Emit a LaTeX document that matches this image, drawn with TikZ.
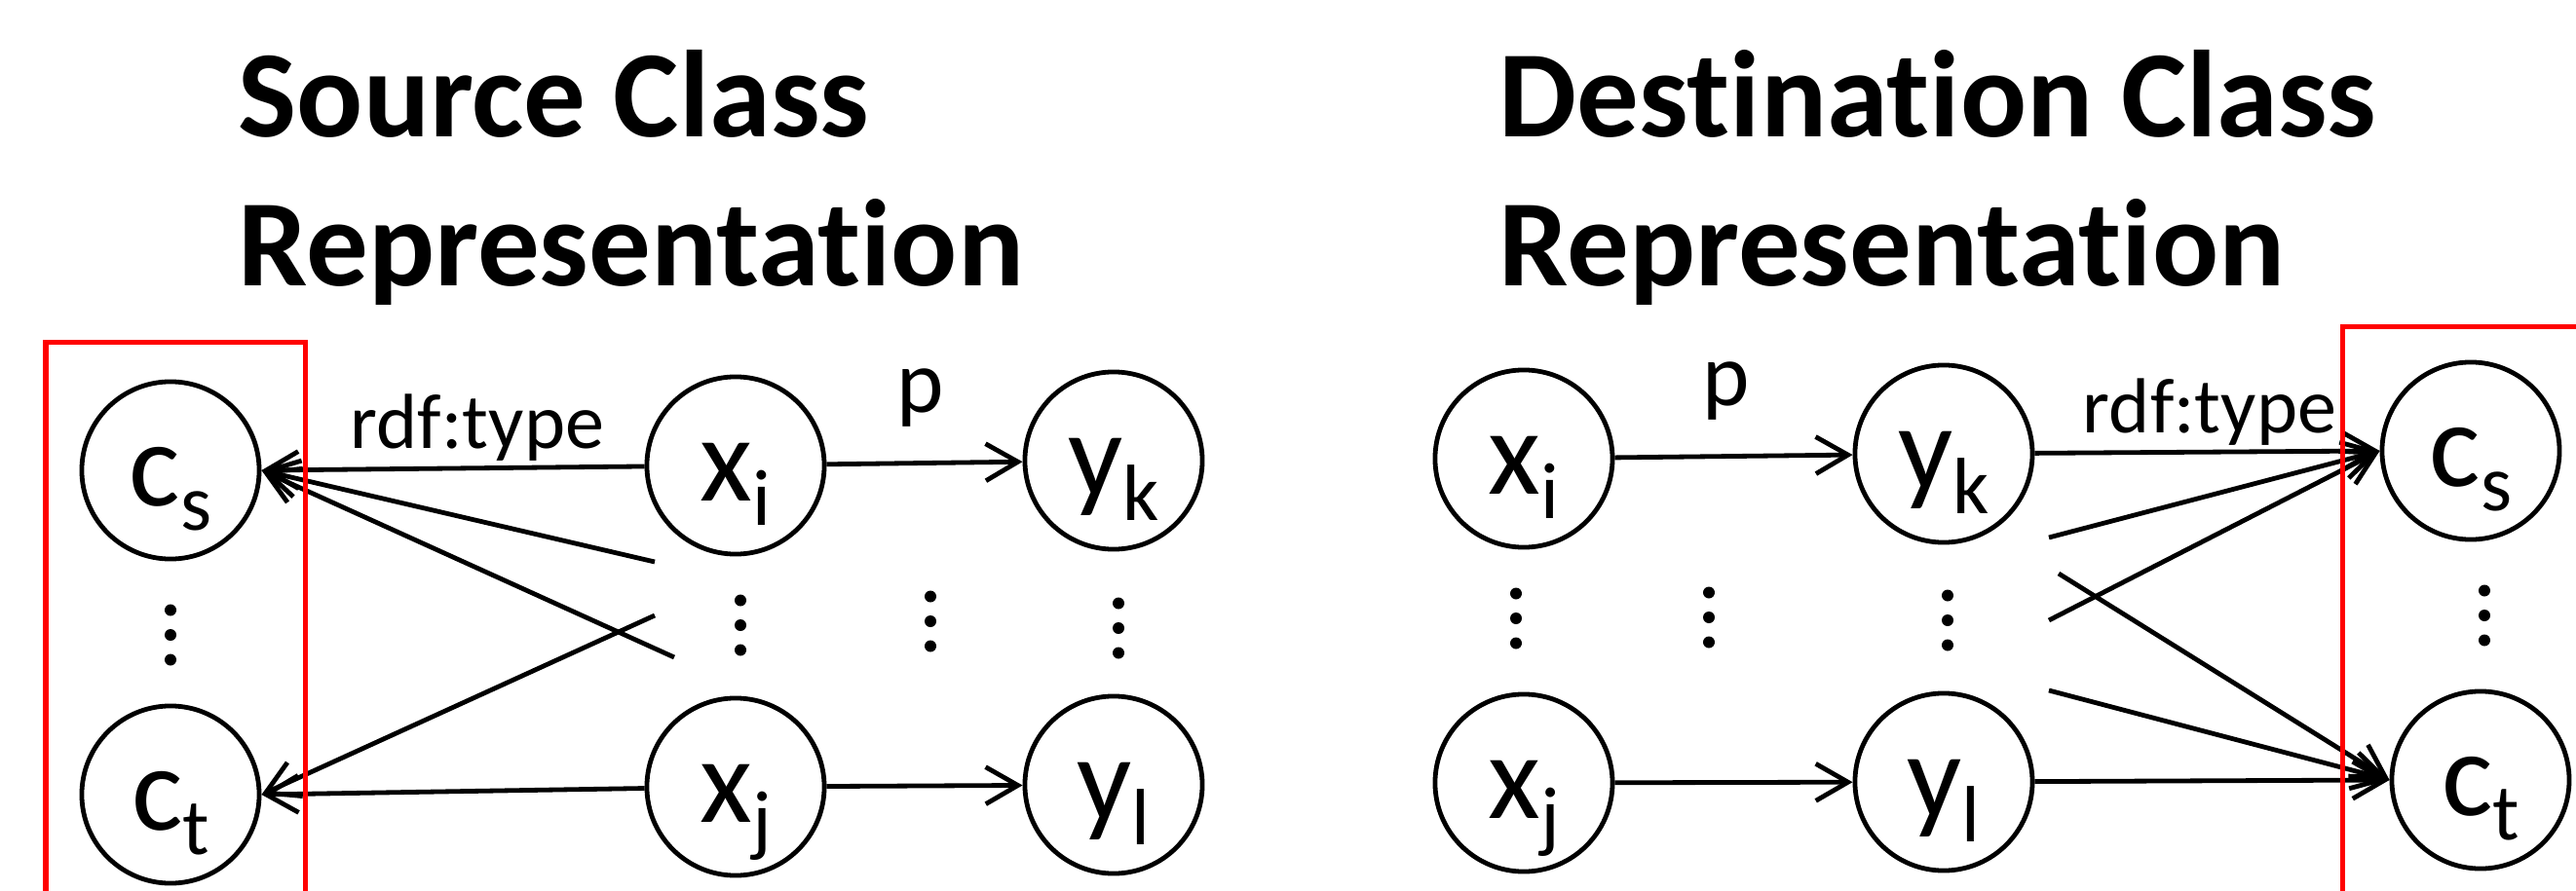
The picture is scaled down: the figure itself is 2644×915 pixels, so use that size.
\documentclass[tikz,border=0pt]{standalone}
\usepackage{fontspec}
\setmainfont{Carlito}[RawFeature={-liga;-clig;-calt;-dlig}]
\usetikzlibrary{arrows.meta}
\newcommand{\nd}[2]{{\fontsize{35.3pt}{36pt}\selectfont #1\raisebox{-0.25cm}{\fontsize{23.3pt}{24pt}\selectfont #2}}}
\newcommand{\vdotsat}[2]{\foreach \dd in {-25.5,0,25.5} {\fill (#1,#2+\dd) circle (0.06cm);}}
\tikzset{
  vnode/.style={circle, draw, line width=0.048cm, minimum size=1.82cm, inner sep=0pt, text height=0.72cm, text depth=0pt},
  arr/.style={line width=0.048cm, -{Straight Barb[length=0.33cm,width=0.38cm]}},
  edgelbl/.style={anchor=base, inner sep=0pt, font=\fontsize{22.8pt}{24pt}\selectfont},
  plbl/.style={anchor=base, inner sep=0pt, font=\fontsize{26.2pt}{27pt}\selectfont},
  ttl/.style={anchor=base west, inner sep=0pt, font=\fontsize{36.1pt}{43pt}\selectfont\bfseries},
  redbox/.style={draw=red, line width=0.05cm}
}
\begin{document}
\begin{tikzpicture}[x=0.01cm, y=-0.01cm]
\clip (0,0) rectangle (2644,915);
\fill[white] (0,0) rectangle (2644,915);
% titles
\node[ttl] (t1a) at (244,140) {Source Class};
\node[ttl] (t1b) at (244,293) {Representat\kern0pt ion};
\node[ttl] (t2a) at (1538,140) {Destinat\kern0pt ion Class};
\node[ttl] (t2b) at (1538,293) {Representat\kern0pt ion};
% left nodes
\node[vnode] (cs) at (175,483) {\nd{c}{s}};
\node[vnode] (ct) at (175,816) {\nd{c}{t}};
\node[vnode] (xi) at (755,478) {\nd{x}{i}};
\node[vnode] (xj) at (755,808) {\nd{x}{j}};
\node[vnode] (yk) at (1143,473) {\nd{y}{k}};
\node[vnode] (yl) at (1143,806) {\nd{y}{l}};
% right nodes
\node[vnode] (xi2) at (1564,471) {\nd{x}{i}};
\node[vnode] (xj2) at (1564,804) {\nd{x}{j}};
\node[vnode] (yk2) at (1995,466) {\nd{y}{k}};
\node[vnode] (yl2) at (1995,803) {\nd{y}{l}};
\node[vnode] (cs2) at (2536,463) {\nd{c}{s}};
\node[vnode] (ct2) at (2546,801) {\nd{c}{t}};
% labels
\node[edgelbl] (l1) at (490,460) {rdf:type};
\node[plbl] (p1) at (945,423) {p};
\node[edgelbl] (l2) at (2268,444) {rdf:type};
\node[plbl] (p2) at (1772,416) {p};
% dots
\vdotsat{175}{652}
\vdotsat{760}{642}
\vdotsat{955}{638}
\vdotsat{1148}{645}
\vdotsat{1556}{635}
\vdotsat{1754}{634}
\vdotsat{1999}{637}
\vdotsat{2550}{632}
% left edges
\coordinate (a1) at (672,577);
\coordinate (a2) at (692,675);
\coordinate (a3) at (672,632);
\draw[arr] (xi) -- (cs.east);
\draw[arr] (a1) -- (cs.east);
\draw[arr] (a2) -- (cs.east);
\draw[arr] (a3) -- (ct.east);
\draw[arr] (xj) -- (ct.east);
\draw[arr] (xi) -- (yk);
\draw[arr] (xj) -- (yl);
% right edges
\coordinate (b1) at (2103,552);
\coordinate (b2) at (2103,637);
\coordinate (b3) at (2113,589);
\coordinate (b4) at (2103,709);
\draw[arr] (xi2) -- (yk2);
\draw[arr] (xj2) -- (yl2);
\draw[arr] (yk2) -- (cs2.west);
\draw[arr] (b1) -- (cs2.west);
\draw[arr] (b2) -- (cs2.west);
\draw[arr] (b3) -- (ct2.west);
\draw[arr] (b4) -- (ct2.west);
\draw[arr] (yl2) -- (ct2.west);
% red boxes
\draw[redbox] (47,960) -- (47,351) -- (313,351) -- (313,960);
\draw[redbox] (2404,960) -- (2404,335) -- (2700,335);
\end{tikzpicture}
\end{document}
